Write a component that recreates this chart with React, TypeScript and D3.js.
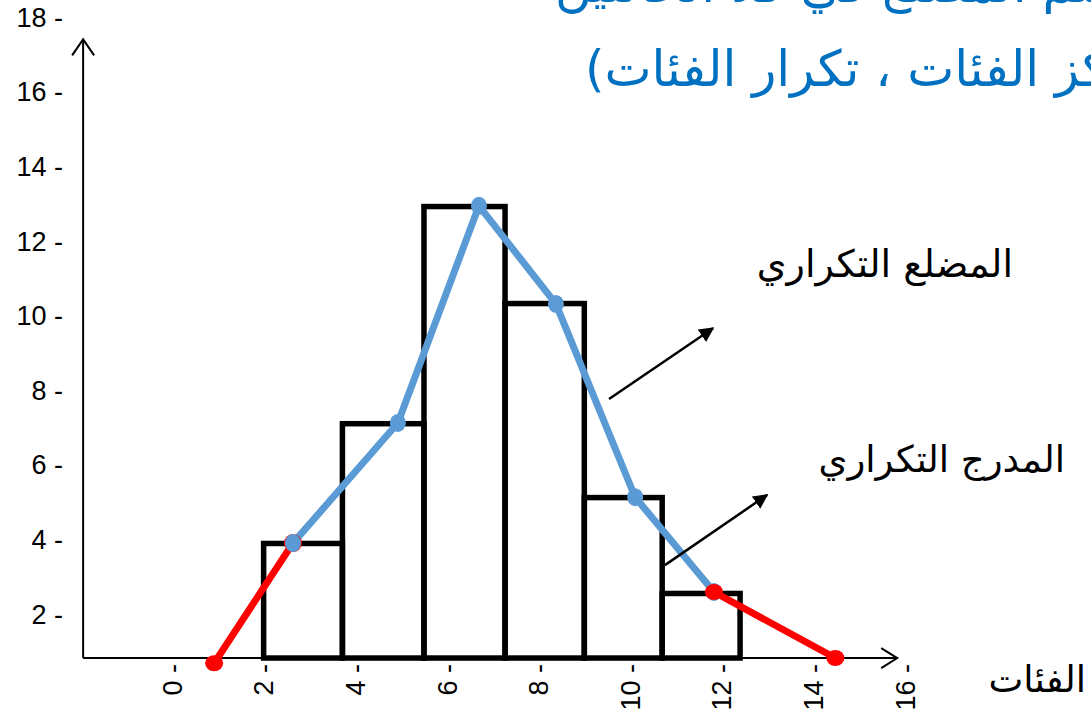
import React, { useEffect, useRef } from 'react';
import * as d3 from 'd3';

// histogram bins (class boundaries) and frequencies, read in the tick scale
const binEdges = [2.0, 3.72, 5.5, 7.27, 9.0, 10.7, 12.4];
const binFreq = [3.89, 7.1, 12.92, 10.32, 5.12, 2.55];

// frequency polygon (blue) and the two closing segments (red)
const polyX = [2.64, 4.93, 6.7, 8.38, 10.11, 11.83];
const polyY = [3.9, 7.12, 12.94, 10.31, 5.13, 2.59];
const tailStart = { x: 0.92, y: 0.68 };
const tailEnd = { x: 14.48, y: 0.82 };

const xTicks = [0, 2, 4, 6, 8, 10, 12, 14, 16];
const yTicks = [2, 4, 6, 8, 10, 12, 14, 16, 18];

const axisExtent = { xMin: -1.94, xMax: 15.83, yMin: 0.82, yMax: 17.4 };

// annotation arrows [from, to]
const arrows = [
  [{ x: 9.54, y: 7.76 }, { x: 11.81, y: 9.66 }],
  [{ x: 10.76, y: 3.31 }, { x: 12.99, y: 5.19 }],
];

const titleLine1 = 'رسم المضلع في كلا الحالتين';
const titleLine2 = 'مركز الفئات ، تكرار الفئات)\u200F';
const polygonLabel = 'المضلع التكراري';
const histLabel = 'المدرج التكراري';
const xLabel = 'الفئات';

const W = 1091;
const H = 721;
const BLUE = '#5B9BD5';
const RED = '#FF0000';
const ARABIC = "'DejaVu Sans', sans-serif";
const LATIN = "'Liberation Sans', Arial, sans-serif";

export default function App() {
  const svgRef = useRef<SVGSVGElement>(null);

  useEffect(() => {
    const svg = d3.select(svgRef.current);
    svg.selectAll('*').remove();

    const x = d3.scaleLinear().domain([0, 16]).range([172, 905]);
    const y = d3.scaleLinear().domain([2, 18]).range([614, 17]);

    const defs = svg.append('defs');
    defs.append('marker').attr('id', 'tri').attr('viewBox', '0 0 10 10')
      .attr('refX', 9).attr('refY', 5).attr('markerWidth', 6).attr('markerHeight', 6)
      .attr('orient', 'auto').attr('markerUnits', 'strokeWidth')
      .append('path').attr('d', 'M0,0 L10,5 L0,10 z').attr('fill', '#000');

    // Axes (plain lines with open arrow heads)
    const x0 = x(axisExtent.xMin), x1 = x(axisExtent.xMax);
    const y0 = y(axisExtent.yMin), y1 = y(axisExtent.yMax);
    svg.append('line').attr('x1', x0).attr('x2', x0).attr('y1', y0).attr('y2', y1)
      .attr('stroke', '#000').attr('stroke-width', 2);
    svg.append('path').attr('d', `M${x0 - 11},${y1 + 16} L${x0},${y1} L${x0 + 11},${y1 + 16}`)
      .attr('fill', 'none').attr('stroke', '#000').attr('stroke-width', 2);
    svg.append('line').attr('x1', x0).attr('x2', x1).attr('y1', y0).attr('y2', y0)
      .attr('stroke', '#000').attr('stroke-width', 2);
    svg.append('path').attr('d', `M${x1 - 16},${y0 - 10} L${x1},${y0} L${x1 - 16},${y0 + 10}`)
      .attr('fill', 'none').attr('stroke', '#000').attr('stroke-width', 2);

    // Y tick labels
    svg.append('g').selectAll('text').data(yTicks).join('text')
      .attr('x', 63).attr('y', d => y(d)).attr('dy', '0.36em').attr('text-anchor', 'end')
      .attr('font-family', LATIN).attr('font-size', 27).attr('fill', '#000')
      .text(d => `${d} -`);

    // X tick labels (rotated)
    svg.append('g').selectAll('text').data(xTicks).join('text')
      .attr('transform', d => `translate(${x(d)},664) rotate(-90)`)
      .attr('dy', '0.36em').attr('text-anchor', 'end')
      .attr('font-family', LATIN).attr('font-size', 27).attr('fill', '#000')
      .text(d => `${d} -`);

    // Histogram bars
    const bins = binFreq.map((f, i) => ({ a: binEdges[i], b: binEdges[i + 1], f }));
    svg.append('g').selectAll('rect').data(bins).join('rect')
      .attr('x', d => x(d.a)).attr('width', d => x(d.b) - x(d.a))
      .attr('y', d => y(d.f)).attr('height', d => y(axisExtent.yMin) - y(d.f))
      .attr('fill', 'none').attr('stroke', '#000').attr('stroke-width', 5.5);

    // Frequency polygon
    const pts = polyX.map((px, i) => ({ x: px, y: polyY[i] }));
    const line = d3.line<{ x: number; y: number }>().x(d => x(d.x)).y(d => y(d.y));
    svg.append('path').datum(pts).attr('d', line).attr('fill', 'none')
      .attr('stroke', BLUE).attr('stroke-width', 7).attr('stroke-linejoin', 'round');

    const first = pts[0], last = pts[pts.length - 1];
    svg.append('path').datum([tailStart, first]).attr('d', line).attr('fill', 'none')
      .attr('stroke', RED).attr('stroke-width', 7).attr('stroke-linecap', 'round');
    svg.append('path').datum([last, tailEnd]).attr('d', line).attr('fill', 'none')
      .attr('stroke', RED).attr('stroke-width', 7).attr('stroke-linecap', 'round');

    svg.append('circle').attr('cx', x(first.x)).attr('cy', y(first.y)).attr('r', 9).attr('fill', RED);
    svg.append('g').selectAll('ellipse').data(pts).join('ellipse')
      .attr('cx', d => x(d.x)).attr('cy', d => y(d.y)).attr('rx', 8).attr('ry', 9).attr('fill', BLUE);
    svg.append('g').selectAll('ellipse').data([last, tailStart, tailEnd]).join('ellipse')
      .attr('cx', d => x(d.x)).attr('cy', d => y(d.y)).attr('rx', 9).attr('ry', 8).attr('fill', RED);

    // Annotation arrows
    svg.append('g').selectAll('line').data(arrows).join('line')
      .attr('x1', d => x(d[0].x)).attr('y1', d => y(d[0].y))
      .attr('x2', d => x(d[1].x)).attr('y2', d => y(d[1].y))
      .attr('stroke', '#000').attr('stroke-width', 2.5).attr('marker-end', 'url(#tri)');

    // Labels
    const label = (txt: string, px: number, py: number, size: number, anchor = 'end', color = '#000') =>
      svg.append('text').attr('x', px).attr('y', py).attr('text-anchor', anchor)
        .attr('font-family', ARABIC).attr('font-size', size).attr('fill', color).text(txt);
    label(polygonLabel, 1013, 277, 38);
    label(histLabel, 1065, 472, 37);
    label(xLabel, 1086, 692, 37);
    label(titleLine1, 555, 2, 50, 'start', '#0070C0');
    label(titleLine2, 585, 86, 50, 'start', '#0070C0');
  }, []);

  return (
    <div style={{ position: 'absolute', left: 0, top: 0, width: W, height: H, background: '#fff' }}>
      <svg ref={svgRef} width={W} height={H} style={{ display: 'block' }} />
    </div>
  );
}
